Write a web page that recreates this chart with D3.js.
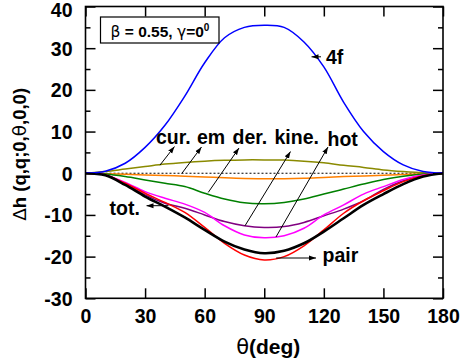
<!DOCTYPE html>
<html><head><meta charset="utf-8">
<script src="https://d3js.org/d3.v7.min.js"></script>
<style>body{margin:0;background:#fff}svg{display:block}text{font-family:"Liberation Sans",Arial,sans-serif;font-weight:bold;fill:#000}</style>
</head><body>
<script>
const theta = [0,10,20,30,40,50,60,70,80,90,100,110,120,130,140,150,160,170,180];
const f4   = [0,0.5,2.4,6.2,11.5,18.5,26.5,32.5,35,35.5,35,31.5,25.5,17,10,5.2,2,0.4,0];
const cur  = [0,0.4,1.0,1.6,2.2,2.6,2.9,3.1,3.2,3.2,3.15,2.9,2.5,1.9,1.4,0.8,0.4,0.1,0];
const em   = [0,-0.1,-0.25,-0.4,-0.55,-0.7,-0.9,-1.1,-1.25,-1.3,-1.3,-1.2,-1.0,-0.8,-0.65,-0.5,-0.3,-0.1,0];
const der  = [0,-0.2,-0.8,-1.6,-2.4,-3.2,-4.8,-6.2,-7.1,-7.3,-7.0,-6.2,-5.0,-3.8,-2.6,-1.5,-0.7,-0.2,0];
const kine = [0,-0.4,-2.5,-5.2,-7.2,-8.4,-10.0,-11.6,-12.6,-13.0,-12.8,-11.8,-10.2,-8.6,-6.6,-3.9,-1.8,-0.5,0];
const hot  = [0,-0.4,-2.2,-4.4,-6.0,-7.4,-9.4,-12.6,-14.8,-15.5,-15.0,-13.2,-10.0,-7.6,-5.0,-3.2,-1.5,-0.4,0];
const pair = [0,-0.4,-2.4,-4.8,-7.0,-9.4,-13.0,-16.8,-19.6,-20.8,-20.0,-17.4,-13.6,-9.6,-6.6,-4.2,-2.0,-0.6,0];
const tot  = [0,-0.5,-2.8,-5.6,-8.0,-10.6,-13.6,-16.4,-18.3,-19.2,-18.6,-16.8,-14.0,-10.8,-7.6,-5.0,-2.6,-0.8,0];
const xTicks = [0,30,60,90,120,150,180];
const yTicks = [-30,-20,-10,0,10,20,30,40];
const yMinor = [-25,-15,-5,5,15,25,35];

const series = [
  {v:cur,  c:"#8a8a00", w:1.5},
  {v:em,   c:"#ff8000", w:1.5},
  {v:der,  c:"#008000", w:1.5},
  {v:kine, c:"#800080", w:1.5},
  {v:hot,  c:"#ff00ff", w:1.5},
  {v:pair, c:"#ff0000", w:1.5},
  {v:tot,  c:"#000000", w:2.6},
  {v:f4,   c:"#0000ff", w:1.5}
];

const W=461,H=364, L=85.5, R=443, T=6.5, B=298.3;
const svg=d3.select("body").append("svg").attr("width",W).attr("height",H);
const x=d3.scaleLinear().domain([0,180]).range([L,R]);
const y=d3.scaleLinear().domain([-30,40]).range([B,T]);

svg.append("defs").append("marker").attr("id","ah").attr("viewBox","0 0 10 10")
  .attr("refX",10).attr("refY",5).attr("markerWidth",7).attr("markerHeight",7)
  .attr("markerUnits","userSpaceOnUse").attr("orient","auto")
  .append("path").attr("d","M0,1.5L10,5L0,8.5Z").attr("fill","#000");

// zero dotted line
svg.append("line").attr("x1",x(0)).attr("x2",x(180)).attr("y1",y(0)).attr("y2",y(0))
  .attr("stroke","#000").attr("stroke-width",1).attr("stroke-dasharray","2,2");

const line=d3.line().x((d,i)=>x(theta[i])).y(d=>y(d)).curve(d3.curveCatmullRom.alpha(0.5));
series.forEach(s=>{
  svg.append("path").attr("d",line(s.v)).attr("fill","none").attr("stroke",s.c).attr("stroke-width",s.w);
});

// frame
svg.append("rect").attr("x",L).attr("y",T).attr("width",R-L).attr("height",B-T)
  .attr("fill","none").attr("stroke","#000").attr("stroke-width",1.6);

// axes with inward ticks
const fmt=d=>String(d);
const gx=svg.append("g").attr("transform",`translate(0,${B})`)
  .call(d3.axisBottom(x).tickValues(xTicks).tickSize(-10).tickPadding(11).tickFormat(fmt));
const gxt=svg.append("g").attr("transform",`translate(0,${T})`)
  .call(d3.axisTop(x).tickValues(xTicks).tickSize(-10).tickFormat(""));
const gy=svg.append("g").attr("transform",`translate(${L},0)`)
  .call(d3.axisLeft(y).tickValues(yTicks).tickSize(-10).tickPadding(13).tickFormat(fmt));
const gyr=svg.append("g").attr("transform",`translate(${R},0)`)
  .call(d3.axisRight(y).tickValues(yTicks).tickSize(-10).tickFormat(""));
const gym=svg.append("g").attr("transform",`translate(${L},0)`)
  .call(d3.axisLeft(y).tickValues(yMinor).tickSize(-5).tickFormat(""));
const gymr=svg.append("g").attr("transform",`translate(${R},0)`)
  .call(d3.axisRight(y).tickValues(yMinor).tickSize(-5).tickFormat(""));
[gx,gxt,gy,gyr,gym,gymr].forEach(g=>{
  g.select(".domain").remove();
  g.selectAll("line").attr("stroke","#000").attr("stroke-width",1.5);
  g.selectAll("text").attr("font-size",19.5).attr("font-family","Liberation Sans, Arial, sans-serif").attr("font-weight","bold").attr("fill","#000");
});
gx.selectAll("text").attr("dy","0.71em");
gy.selectAll("text").attr("dy",d=>d===40?"0.5em":"0.36em");

// axis titles
svg.append("text").attr("x",x(90)+4).attr("y",354).attr("text-anchor","middle").attr("font-size",21)
  .html('<tspan font-weight="normal" font-family="DejaVu Sans">θ</tspan>(deg)');
svg.append("text").attr("transform",`translate(26,${(T+B)/2+2}) rotate(-90)`).attr("text-anchor","middle").attr("font-size",18.5)
  .html('<tspan font-weight="normal" font-family="DejaVu Sans">Δ</tspan>h (q,q;0,<tspan font-weight="normal" font-family="DejaVu Sans">θ</tspan>,0,0)');

// legend box
svg.append("rect").attr("x",100.5).attr("y",17).attr("width",118.5).attr("height",26)
  .attr("fill","#fff").attr("stroke","#000").attr("stroke-width",1.2);
svg.append("text").attr("x",160).attr("y",37).attr("text-anchor","middle").attr("font-size",15.5)
  .html('<tspan font-weight="normal" font-family="DejaVu Sans">β</tspan> = 0.55, <tspan font-weight="normal" font-family="DejaVu Sans">γ</tspan>=0<tspan font-size="10" dy="-6">0</tspan>');

// labels and arrows
const labels=[
  {t:"4f",  x:326,  y:63.5},
  {t:"cur.",x:156,  y:143.5},
  {t:"em",  x:197,  y:143.5},
  {t:"der.",x:232.5,y:143.5},
  {t:"kine.",x:274.5,y:143.5},
  {t:"hot", x:327.5,y:146},
  {t:"tot.",x:109.5,y:215},
  {t:"pair",x:322.5,y:262}
];
labels.forEach(l=>svg.append("text").attr("x",l.x).attr("y",l.y).attr("font-size",19.5).text(l.t));

const arrows=[
  {th:[118,16], v:[28,28.1], ex:311.5, ey:56.8},
  {th:[37.5,0], v:[1.95,0], ex:174.5, ey:146.5},
  {th:[48.5,0], v:[-0.05,0], ex:201.5, ey:147},
  {th:[61.8,0], v:[-4.6,0], ex:239, ey:148},
  {th:[80.3,0], v:[-12.6,0], ex:290.5, ey:151.5},
  {th:[95.9,0], v:[-15.3,0], ex:328, ey:147},
  {th:[41.8,0], v:[-7.9,0], ex:146.5, ey:205.7},
  {th:[96,0], v:[-20.5,0], ex:316, ey:258}
];
arrows.forEach((a,i)=>{
  const x1 = i===0 ? 321 : x(a.th[0]);
  const y1 = i===0 ? 56.8 : (i===6 ? 205.7 : (i===7 ? 258 : y(a.v[0])));
  svg.append("line").attr("x1",x1).attr("y1",y1).attr("x2",a.ex).attr("y2",a.ey)
    .attr("stroke","#000").attr("stroke-width",1).attr("marker-end","url(#ah)");
});
</script>
</body></html>
